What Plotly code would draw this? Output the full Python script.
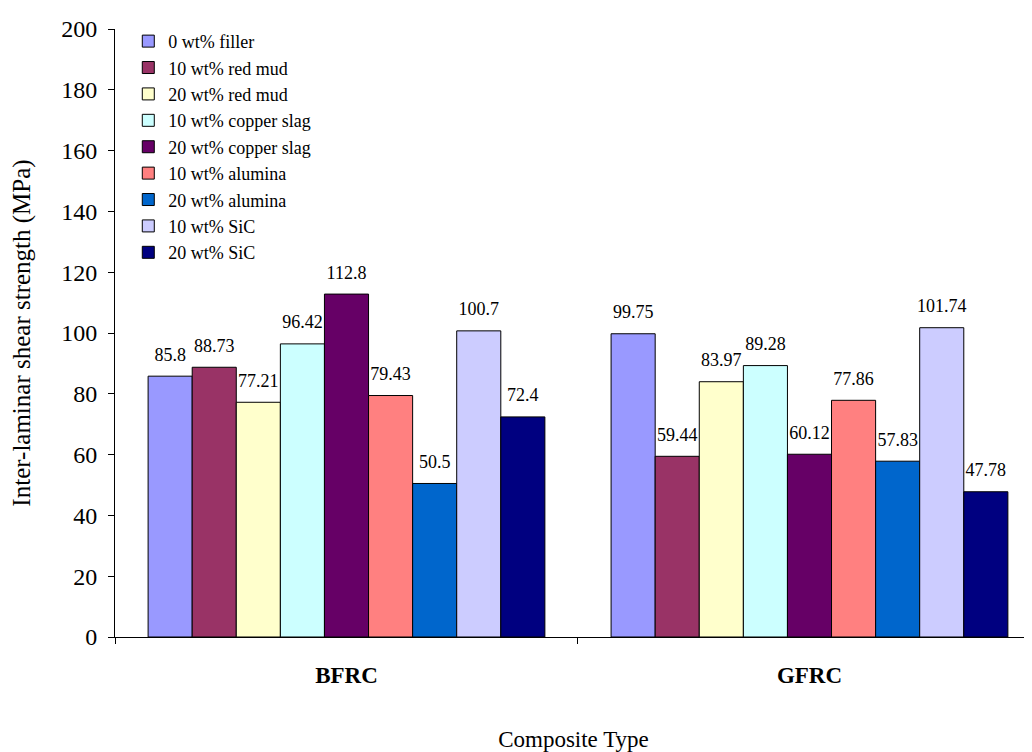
import plotly.graph_objects as go

categories = ["BFRC", "GFRC"]
series_names = ["0 wt% filler", "10 wt% red mud", "20 wt% red mud", "10 wt% copper slag",
                "20 wt% copper slag", "10 wt% alumina", "20 wt% alumina", "10 wt% SiC", "20 wt% SiC"]
bfrc_values = [85.8, 88.73, 77.21, 96.42, 112.8, 79.43, 50.5, 100.7, 72.4]
gfrc_values = [99.75, 59.44, 83.97, 89.28, 60.12, 77.86, 57.83, 101.74, 47.78]
colors = ["#9999FF", "#993366", "#FFFFCC", "#CCFFFF", "#660066", "#FF8080", "#0066CC", "#CCCCFF", "#000080"]
y_ticks = [0, 20, 40, 60, 80, 100, 120, 140, 160, 180, 200]

FONT = "Liberation Serif"

fig = go.Figure()
for i, name in enumerate(series_names):
    vals = [bfrc_values[i], gfrc_values[i]]
    fig.add_trace(go.Bar(
        x=categories, y=vals, name=name,
        marker=dict(color=colors[i], line=dict(color="black", width=1)),
        text=[str(v) for v in vals],
        texttemplate="<span style='font-size:18px'>%{text}</span><br>&nbsp;",
        textposition="outside", constraintext="none",
        textfont=dict(family=FONT, size=8, color="black"),
        cliponaxis=False,
    ))

fig.update_layout(
    width=1032, height=752,
    margin=dict(l=107, r=8, t=10, b=123),
    paper_bgcolor="white", plot_bgcolor="white",
    barmode="group", bargap=0.143, bargroupgap=0,
    font=dict(family=FONT, size=20, color="black"),
    showlegend=True,
    legend=dict(x=0.0145, y=1.01, xanchor="left", yanchor="top",
                bgcolor="rgba(0,0,0,0)", borderwidth=0,
                font=dict(family=FONT, size=18, color="black"),
                traceorder="normal", itemwidth=30),
    uniformtext=dict(mode=False),
)
fig.update_xaxes(
    range=[-0.5, 1.4806], showline=True, linecolor="black", linewidth=1,
    ticks="outside", tickson="boundaries", ticklen=6, tickcolor="black",
    ticklabelstandoff=17,
    tickfont=dict(family=FONT, size=23, color="black", weight="bold"),
    showgrid=False, zeroline=False,
    title=dict(text="Composite Type", font=dict(family=FONT, size=23), standoff=44),
)
fig.update_yaxes(
    range=[0, 200], tickvals=y_ticks, showline=True, linecolor="black", linewidth=1,
    ticks="outside", ticklen=6, tickcolor="black",
    ticklabelstandoff=6,
    tickfont=dict(family=FONT, size=24, color="black"),
    showgrid=False, zeroline=False,
    title=dict(text="Inter-laminar shear strength (MPa)", font=dict(family=FONT, size=25), standoff=24),
)
fig.write_html("out.html")
